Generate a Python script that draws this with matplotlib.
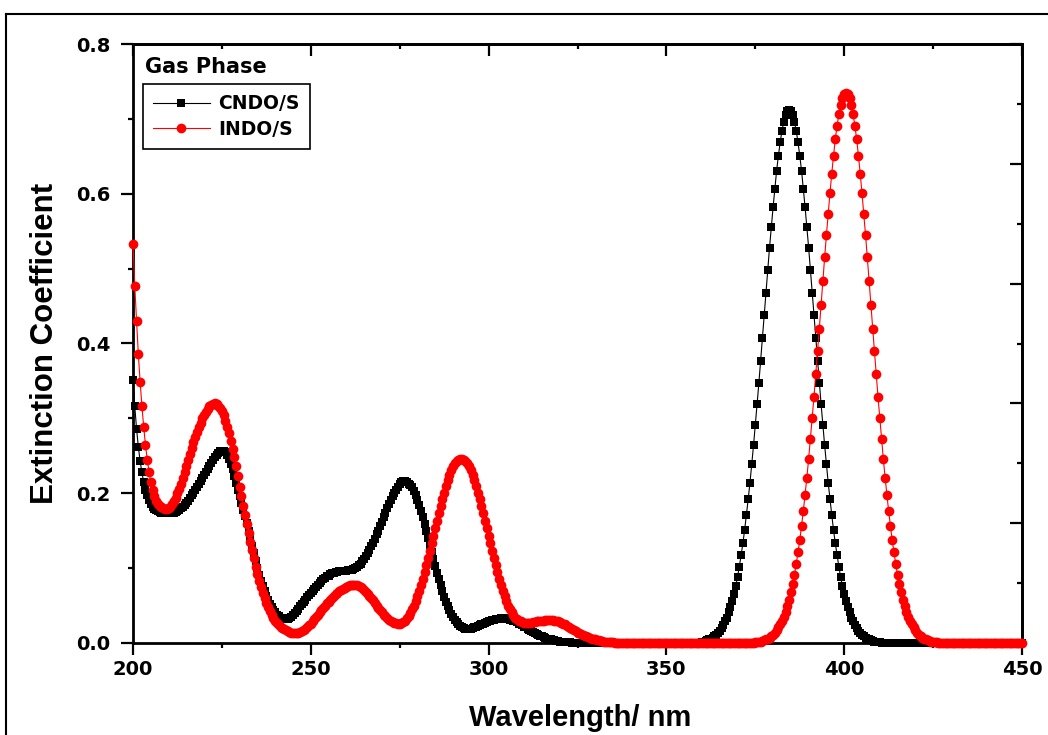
import numpy as np
import matplotlib
matplotlib.use("Agg")
import matplotlib.pyplot as plt
from matplotlib.lines import Line2D
from matplotlib.ticker import MultipleLocator, FixedLocator

plt.rcParams["font.family"] = ["Liberation Sans", "DejaVu Sans"]
plt.rcParams["font.weight"] = "bold"

# --- data (0.5 nm steps, 200-450 nm) ---
step = 0.5
wavelength = np.arange(200.0, 450.0 + step / 2, step)

# CNDO/S, UV part 200.0 - 323.0 nm
cndo_uv_start = 200.0
cndo_uv = [
    0.351, 0.316, 0.286, 0.262, 0.243, 0.228, 0.215, 0.205, 0.197, 0.191,
    0.186, 0.182, 0.179, 0.177, 0.176, 0.175, 0.174, 0.174, 0.173, 0.173,
    0.173, 0.173, 0.174, 0.174, 0.175, 0.176, 0.178, 0.180, 0.182, 0.184,
    0.187, 0.190, 0.193, 0.197, 0.201, 0.205, 0.209, 0.213, 0.217, 0.221,
    0.225, 0.229, 0.233, 0.237, 0.241, 0.245, 0.248, 0.251, 0.254, 0.256,
    0.257, 0.257, 0.255, 0.251, 0.246, 0.239, 0.232, 0.223, 0.214, 0.205,
    0.196, 0.187, 0.178, 0.169, 0.160, 0.150, 0.140, 0.130, 0.120, 0.110,
    0.100, 0.091, 0.083, 0.076, 0.070, 0.063, 0.057, 0.052, 0.048, 0.044,
    0.041, 0.038, 0.036, 0.034, 0.033, 0.032, 0.032, 0.032, 0.033, 0.035,
    0.037, 0.040, 0.043, 0.046, 0.049, 0.052, 0.055, 0.058, 0.061, 0.064,
    0.067, 0.070, 0.072, 0.075, 0.078, 0.080, 0.083, 0.085, 0.087, 0.089,
    0.090, 0.092, 0.093, 0.094, 0.095, 0.095, 0.096, 0.096, 0.096, 0.096,
    0.096, 0.097, 0.097, 0.098, 0.099, 0.100, 0.102, 0.104, 0.106, 0.109,
    0.112, 0.116, 0.120, 0.124, 0.129, 0.134, 0.139, 0.145, 0.150, 0.156,
    0.162, 0.168, 0.174, 0.180, 0.186, 0.191, 0.196, 0.201, 0.205, 0.209,
    0.212, 0.215, 0.216, 0.216, 0.215, 0.213, 0.211, 0.208, 0.203, 0.197,
    0.191, 0.184, 0.176, 0.168, 0.159, 0.150, 0.140, 0.131, 0.121, 0.112,
    0.103, 0.094, 0.085, 0.077, 0.069, 0.062, 0.055, 0.049, 0.044, 0.039,
    0.035, 0.031, 0.028, 0.025, 0.023, 0.021, 0.020, 0.019, 0.019, 0.019,
    0.019, 0.020, 0.021, 0.022, 0.023, 0.024, 0.025, 0.026, 0.027, 0.028,
    0.029, 0.030, 0.031, 0.031, 0.032, 0.032, 0.032, 0.033, 0.033, 0.033,
    0.032, 0.032, 0.031, 0.031, 0.030, 0.029, 0.028, 0.026, 0.025, 0.024,
    0.022, 0.021, 0.019, 0.018, 0.016, 0.015, 0.013, 0.012, 0.011, 0.010,
    0.009, 0.008, 0.007, 0.006, 0.005, 0.005, 0.004, 0.004, 0.003, 0.003,
    0.002, 0.002, 0.002, 0.002, 0.001, 0.001, 0.001,
]

# CNDO/S, visible band 360.0 - 410.0 nm
cndo_vis_start = 360.0
cndo_vis = [
    0.002, 0.002, 0.003, 0.004, 0.005, 0.006, 0.007, 0.009, 0.011, 0.013,
    0.016, 0.020, 0.024, 0.029, 0.034, 0.041, 0.048, 0.056, 0.066, 0.076,
    0.088, 0.102, 0.117, 0.133, 0.151, 0.171, 0.192, 0.214, 0.239, 0.264,
    0.291, 0.319, 0.347, 0.377, 0.407, 0.438, 0.468, 0.498, 0.528, 0.555,
    0.582, 0.607, 0.631, 0.651, 0.669, 0.684, 0.696, 0.705, 0.710, 0.712,
    0.710, 0.705, 0.696, 0.684, 0.669, 0.651, 0.631, 0.607, 0.582, 0.555,
    0.528, 0.498, 0.468, 0.438, 0.407, 0.377, 0.347, 0.319, 0.291, 0.264,
    0.239, 0.214, 0.192, 0.171, 0.151, 0.133, 0.117, 0.102, 0.088, 0.076,
    0.066, 0.056, 0.048, 0.041, 0.034, 0.029, 0.024, 0.020, 0.016, 0.013,
    0.011, 0.009, 0.007, 0.006, 0.005, 0.004, 0.003, 0.002, 0.002, 0.001,
    0.001,
]

# INDO/S, UV part 200.0 - 335.0 nm
indo_uv_start = 200.0
indo_uv = [
    0.533, 0.477, 0.430, 0.386, 0.349, 0.317, 0.289, 0.265, 0.245, 0.229,
    0.215, 0.204, 0.196, 0.190, 0.186, 0.183, 0.181, 0.180, 0.179, 0.179,
    0.180, 0.182, 0.185, 0.189, 0.194, 0.200, 0.206, 0.213, 0.221, 0.229,
    0.237, 0.245, 0.253, 0.261, 0.268, 0.275, 0.282, 0.288, 0.294, 0.300,
    0.305, 0.309, 0.313, 0.316, 0.318, 0.319, 0.320, 0.319, 0.317, 0.314,
    0.310, 0.304, 0.297, 0.289, 0.280, 0.270, 0.259, 0.248, 0.236, 0.223,
    0.209, 0.196, 0.183, 0.171, 0.159, 0.147, 0.135, 0.124, 0.113, 0.102,
    0.092, 0.083, 0.075, 0.067, 0.060, 0.054, 0.048, 0.043, 0.038, 0.034,
    0.030, 0.027, 0.024, 0.022, 0.020, 0.019, 0.017, 0.016, 0.015, 0.014,
    0.013, 0.013, 0.013, 0.014, 0.015, 0.016, 0.018, 0.019, 0.021, 0.024,
    0.026, 0.029, 0.032, 0.035, 0.038, 0.041, 0.044, 0.047, 0.050, 0.053,
    0.055, 0.058, 0.060, 0.063, 0.065, 0.067, 0.069, 0.071, 0.072, 0.074,
    0.075, 0.076, 0.077, 0.077, 0.078, 0.078, 0.077, 0.076, 0.075, 0.073,
    0.071, 0.068, 0.066, 0.063, 0.060, 0.057, 0.054, 0.050, 0.047, 0.044,
    0.041, 0.038, 0.036, 0.033, 0.031, 0.030, 0.028, 0.027, 0.027, 0.026,
    0.026, 0.027, 0.028, 0.030, 0.033, 0.036, 0.040, 0.045, 0.050, 0.056,
    0.063, 0.070, 0.078, 0.086, 0.095, 0.104, 0.113, 0.123, 0.133, 0.143,
    0.153, 0.163, 0.173, 0.183, 0.192, 0.201, 0.210, 0.218, 0.225, 0.231,
    0.236, 0.240, 0.243, 0.245, 0.246, 0.246, 0.245, 0.243, 0.240, 0.236,
    0.231, 0.225, 0.218, 0.210, 0.201, 0.192, 0.183, 0.173, 0.163, 0.153,
    0.143, 0.133, 0.123, 0.113, 0.104, 0.095, 0.086, 0.078, 0.070, 0.063,
    0.056, 0.050, 0.045, 0.041, 0.037, 0.034, 0.032, 0.030, 0.029, 0.028,
    0.027, 0.027, 0.027, 0.027, 0.027, 0.028, 0.028, 0.029, 0.029, 0.030,
    0.030, 0.030, 0.031, 0.031, 0.031, 0.031, 0.031, 0.030, 0.030, 0.029,
    0.028, 0.027, 0.026, 0.025, 0.023, 0.022, 0.020, 0.019, 0.017, 0.016,
    0.014, 0.013, 0.012, 0.011, 0.010, 0.009, 0.008, 0.007, 0.006, 0.005,
    0.005, 0.004, 0.004, 0.003, 0.003, 0.002, 0.002, 0.002, 0.001, 0.001,
    0.001,
]

# INDO/S, visible band 375.0 - 426.0 nm
indo_vis_start = 375.0
indo_vis = [
    0.001, 0.001, 0.002, 0.002, 0.003, 0.004, 0.005, 0.006, 0.007, 0.009,
    0.011, 0.014, 0.017, 0.021, 0.025, 0.030, 0.035, 0.042, 0.049, 0.058,
    0.068, 0.079, 0.091, 0.105, 0.121, 0.137, 0.156, 0.176, 0.198, 0.221,
    0.246, 0.273, 0.301, 0.329, 0.359, 0.390, 0.420, 0.452, 0.484, 0.515,
    0.545, 0.573, 0.601, 0.627, 0.651, 0.673, 0.691, 0.706, 0.719, 0.728,
    0.733, 0.735, 0.733, 0.728, 0.719, 0.706, 0.691, 0.673, 0.651, 0.627,
    0.601, 0.573, 0.545, 0.515, 0.484, 0.452, 0.420, 0.390, 0.359, 0.329,
    0.301, 0.273, 0.246, 0.221, 0.198, 0.176, 0.156, 0.137, 0.121, 0.105,
    0.091, 0.079, 0.068, 0.058, 0.049, 0.042, 0.035, 0.030, 0.025, 0.021,
    0.017, 0.014, 0.011, 0.009, 0.007, 0.006, 0.005, 0.004, 0.003, 0.002,
    0.002, 0.001, 0.001,
]


def build(segments):
    # baseline reads 0.000 outside the listed bands
    y = np.zeros_like(wavelength)
    for start, vals in segments:
        i = int(round((start - wavelength[0]) / step))
        y[i:i + len(vals)] = vals
    return y


cndo = build([(cndo_uv_start, cndo_uv), (cndo_vis_start, cndo_vis)])
indo = build([(indo_uv_start, indo_uv), (indo_vis_start, indo_vis)])

# --- figure ---
W, H = 1048, 735
small_font = "DejaVu Sans"   # wide bold face, closer to the stretched original
fig = plt.figure(figsize=(W / 100, H / 100), dpi=100)
ax = fig.add_axes([133 / W, 1 - 643 / H, (1022 - 133) / W, (643 - 44) / H])

ax.plot(wavelength, cndo, color="black", lw=0.8, marker="s", ms=6.2,
        mew=0, label="CNDO/S", clip_on=False, zorder=3)
ax.plot(wavelength, indo, color="red", lw=0.8, marker="o", ms=7,
        mew=0, label="INDO/S", clip_on=False, zorder=4)

ax.set_xlim(200, 450)
ax.set_ylim(0, 0.8)
ax.xaxis.set_major_locator(MultipleLocator(50))
ax.xaxis.set_minor_locator(MultipleLocator(25))
ax.yaxis.set_major_locator(MultipleLocator(0.2))
ax.yaxis.set_minor_locator(MultipleLocator(0.1))
ax.yaxis.set_major_formatter(plt.FormatStrFormatter("%.1f"))

lw_axis = 2.0
for s in ax.spines.values():
    s.set_linewidth(lw_axis)
ax.tick_params(which="both", direction="out", width=1.6, top=False, right=False,
               labelsize=14, labelfontfamily=small_font)
ax.tick_params(which="major", length=8.5)
ax.tick_params(which="minor", length=3.8)
ax.tick_params(axis="x", pad=4)
ax.tick_params(axis="y", pad=8)

# mirrored ticks pointing in
top = ax.secondary_xaxis("top")
top.xaxis.set_major_locator(MultipleLocator(50))
top.xaxis.set_minor_locator(MultipleLocator(25))
top.tick_params(which="both", direction="in", width=1.6, labeltop=False)
top.tick_params(which="major", length=8.5)
top.tick_params(which="minor", length=3.8)
top.spines["top"].set_linewidth(lw_axis)

right = ax.secondary_yaxis("right")
right.yaxis.set_major_locator(FixedLocator([0.0, 0.16, 0.32, 0.48, 0.64, 0.8]))
right.yaxis.set_minor_locator(FixedLocator([0.08, 0.24, 0.40, 0.56, 0.72]))
right.tick_params(which="both", direction="in", width=1.6, labelright=False)
right.tick_params(which="major", length=8.5)
right.tick_params(which="minor", length=3.8)
right.spines["right"].set_linewidth(lw_axis)

fig.text(580 / W, 1 - 726 / H, "Wavelength/ nm", fontsize=21,
         ha="center", va="baseline")
fig.text(45 / W, 1 - 343 / H, "Extinction Coefficient", fontsize=22.5,
         rotation=90, ha="center", va="center")

fig.text(145 / W, 1 - 73 / H, "Gas Phase", fontsize=15,
         family=small_font, va="baseline")
leg = ax.legend(loc="upper left", bbox_to_anchor=(143 / W, 1 - 84 / H),
                bbox_transform=fig.transFigure, borderaxespad=0,
                prop={"family": small_font, "weight": "bold", "size": 13.5},
                handlelength=3.0, handletextpad=0.45, labelspacing=0.35,
                borderpad=0.55, fancybox=False, edgecolor="black", framealpha=1)
leg.get_frame().set_linewidth(1.2)

# outer frame of the exported picture (top and left edges visible)
fig.add_artist(Line2D([6 / W, 1], [1 - 14 / H, 1 - 14 / H],
                      transform=fig.transFigure, color="black", lw=1.5))
fig.add_artist(Line2D([6 / W, 6 / W], [0, 1 - 14 / H],
                      transform=fig.transFigure, color="black", lw=1.5))

fig.savefig("out.png", dpi=100)
